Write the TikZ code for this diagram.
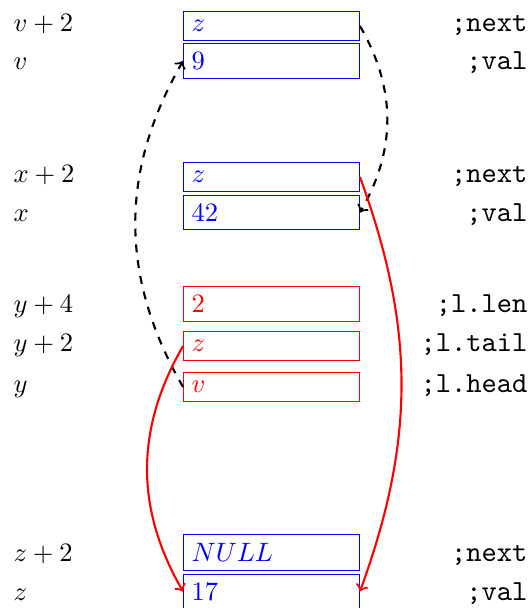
\documentclass[tikz,border=0pt]{standalone}
\usepackage{tikz}
\usetikzlibrary{calc}
\newcommand{\fld}[1]{\makebox[60.2pt][l]{$#1$}}
\tikzset{
  cell/.style={rectangle, inner sep=3pt},
  bcell/.style={cell, text=blue},
  rcell/.style={cell, text=red},
  addr/.style={anchor=base west, inner sep=0pt},
  note/.style={anchor=base east, inner sep=0pt, font=\fontsize{10.95}{13}\ttfamily},
  ptr/.style={->, thick, dashed},
  rptr/.style={->, thick, red}
}
\begin{document}
\begin{tikzpicture}[x=0.3765pt, y=-0.3765pt]
        \useasboundingbox (0,0) rectangle (530,608);
        \coordinate (L) at (13,0);
        \coordinate (R) at (528,0);

        % node v
        \node[bcell] (vnext) at (271.5,26) {\fld{z}};
        \node[bcell] (vval) at (271.5,61) {\fld{9}};
        % node x
        \node[bcell] (xnext) at (271.5,177) {\fld{z}};
        \node[bcell] (xval) at (271.5,212.5) {\fld{42}};
        % list header l
        \node[rcell] (ylen) at (271.5,304) {\fld{2}};
        \node[rcell] (ytail) at (271.5,346) {\fld{z}};
        \node[rcell] (yhead) at (271.5,387) {\fld{v}};
        % node z
        \node[bcell] (znext) at (271.5,552.5) {\fld{NULL}};
        \node[bcell] (zval) at (271.5,591.5) {\fld{17}};

        % cell borders, one path per colour
        \draw[blue] (vnext.south west) rectangle (vnext.north east)
                    (vval.south west) rectangle (vval.north east)
                    (xnext.south west) rectangle (xnext.north east)
                    (xval.south west) rectangle (xval.north east)
                    (znext.south west) rectangle (znext.north east)
                    (zval.south west) rectangle (zval.north east);
        \draw[red] (ylen.south west) rectangle (ylen.north east)
                   (ytail.south west) rectangle (ytail.north east)
                   (yhead.south west) rectangle (yhead.north east);

        % addresses
        \node[addr] at (L |- vnext.base) {$v+2$};
        \node[addr] at (L |- vval.base) {$v$};
        \node[addr] at (L |- xnext.base) {$x+2$};
        \node[addr] at (L |- xval.base) {$x$};
        \node[addr] at (L |- ylen.base) {$y+4$};
        \node[addr] at (L |- ytail.base) {$y+2$};
        \node[addr] at (L |- yhead.base) {$y$};
        \node[addr] at (L |- znext.base) {$z+2$};
        \node[addr] at (L |- zval.base) {$z$};

        % field comments
        \node[note] at (R |- vnext.base) {;next};
        \node[note] at (R |- vval.base) {;val};
        \node[note] at (R |- xnext.base) {;next};
        \node[note] at (R |- xval.base) {;val};
        \node[note] at (R |- ylen.base) {;l.len};
        \node[note] at (R |- ytail.base) {;l.tail};
        \node[note] at (R |- yhead.base) {;l.head};
        \node[note] at (R |- znext.base) {;next};
        \node[note] at (R |- zval.base) {;val};

        % pointers
        \draw[ptr] (vnext.east) to[bend left] (xval.east);
        \draw[ptr] (yhead.west) to[bend left] (vval.west);
        \draw[rptr] (xnext.east) to[bend left=20] (zval.east);
        \draw[rptr] (ytail.west) to[bend right] (zval.west);

    \end{tikzpicture}
\end{document}
